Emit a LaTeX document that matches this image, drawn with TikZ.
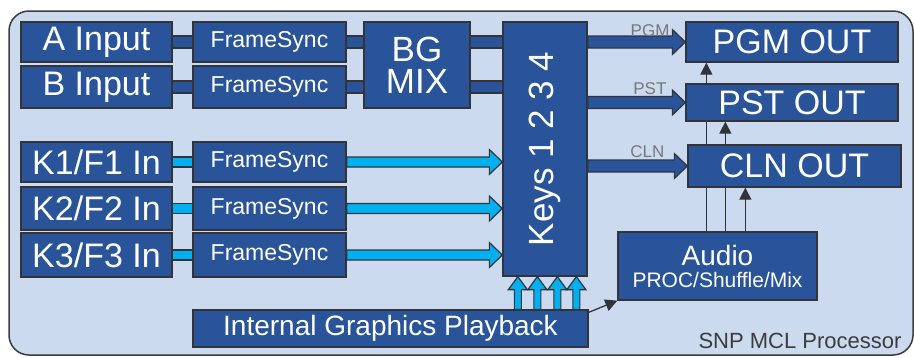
\documentclass[tikz,border=0pt]{standalone}
\usepackage{fontspec}
\setmainfont{Liberation Sans}
\usetikzlibrary{calc,arrows.meta}
\definecolor{boxblue}{RGB}{42,84,153}
\definecolor{edge}{RGB}{50,52,58}
\definecolor{panel}{RGB}{204,218,240}
\definecolor{kcyan}{RGB}{0,176,240}
\definecolor{lblgray}{RGB}{120,120,120}
\definecolor{outerline}{RGB}{60,60,60}
\pgfdeclarelayer{bottom}
\pgfdeclarelayer{background}
\pgfsetlayers{bottom,background,main}
\newcommand\fsz[1]{\fontsize{#1}{#1}\selectfont}
% horizontal bar between two points at same height
\newcommand\hconn[4]{\draw[barstyle,fill=#1] let \p1=(#2),\p2=(#3) in
  (\x1,\y1-#4) rectangle (\x2,\y1+#4);}
% horizontal block arrow
\newcommand\harr[4]{\draw[barstyle,fill=#1] let \p1=(#2),\p2=(#3) in
  (\x1,\y1-#4) -- (\x2-13pt,\y1-#4) -- (\x2-13pt,\y1-12.5pt) -- (\x2,\y1)
  -- (\x2-13pt,\y1+12.5pt) -- (\x2-13pt,\y1+#4) -- (\x1,\y1+#4) -- cycle;}
% vertical (upward) block arrow
\newcommand\varr[3]{\draw[barstyle,fill=#1] let \p1=(#2),\p2=(#3) in
  (\x1-3.5pt,\y1) -- (\x1-3.5pt,\y2-13pt) -- (\x1-9.5pt,\y2-13pt) -- (\x1,\y2)
  -- (\x1+9.5pt,\y2-13pt) -- (\x1+3.5pt,\y2-13pt) -- (\x1+3.5pt,\y1) -- cycle;}
\begin{document}
\begin{tikzpicture}[x=1pt,y=-1pt,
  blk/.style={draw=edge,line width=1.3pt,fill=boxblue,text=white,inner sep=0pt},
  big/.style={font=\fsz{34}},
  fsync/.style={blk,minimum width=153,font=\fsz{23}},
  barstyle/.style={draw=edge,line width=1.2pt,line join=miter},
  thin/.style={draw=edge,line width=1.3pt,-{Triangle[width=12pt,length=12pt]}},
  lbl/.style={anchor=base east,text=lblgray,font=\fsz{17}}]
\useasboundingbox (0,0) rectangle (914,357);
\begin{pgfonlayer}{bottom}
  \draw[draw=outerline,line width=1.5pt,fill=panel,rounded corners=20pt] (9,11) rectangle (913,355);
\end{pgfonlayer}

% input column
\node[blk,big,minimum width=151,minimum height=40] (ain) at (96.5,42) {A Input};
\node[blk,big,minimum width=151,minimum height=42] (bin) at (96.5,87) {B Input};
\node[blk,big,minimum width=151,minimum height=40] (k1) at (96.5,162) {K1/F1 In};
\node[blk,big,minimum width=151,minimum height=43] (k2) at (96.5,208.5) {K2/F2 In};
\node[blk,big,minimum width=151,minimum height=44] (k3) at (96.5,255) {K3/F3 In};

% framesyncs
\node[fsync,minimum height=40] (fsa) at (269.5,42) {FrameSync};
\node[fsync,minimum height=42] (fsb) at (269.5,87) {FrameSync};
\node[fsync,minimum height=40] (fk1) at (269.5,162) {FrameSync};
\node[fsync,minimum height=43] (fk2) at (269.5,208.5) {FrameSync};
\node[fsync,minimum height=44] (fk3) at (269.5,255) {FrameSync};

% BG mix
\node[blk,minimum width=106,minimum height=86,align=center,font=\fontsize{35}{32}\selectfont] (bg) at (417,65) {BG\\MIX};

% keys
\node[blk,minimum width=84,minimum height=254] (keys) at (545,149) {};
\node[rotate=90,text=white,font=\fsz{35},inner sep=0pt] (keyst) at (keys.center) {Keys 1 2 3 4};

% outputs
\node[blk,big,minimum width=212,minimum height=40] (pgm) at (792,42) {PGM OUT};
\node[blk,big,minimum width=212,minimum height=37] (pst) at (792,102.5) {PST OUT};
\node[blk,big,minimum width=213,minimum height=42] (cln) at (794.5,166) {CLN OUT};

% audio
\node[blk,minimum width=199,minimum height=68,align=center,font=\fontsize{28}{22}\selectfont] (audio) at (717.5,266)
  {Audio\\{\fontsize{21}{22}\selectfont PROC/Shuffle/Mix}};

% internal graphics
\node[blk,minimum width=395,minimum height=37,font=\fsz{28}] (igp) at (390.5,328.5) {Internal Graphics Playback};

% labels
\node[lbl] (lpgm) at (673,36) {PGM};
\node[lbl] (lpst) at (670,94) {PST};
\node[lbl] (lcln) at (668,157) {CLN};
\node[anchor=base east,text=outerline,font=\fsz{22}] (snp) at (905,348) {SNP MCL Processor};

\begin{pgfonlayer}{background}
  % A/B paths
  \hconn{boxblue}{ain.east}{fsa.west}{6pt}
  \hconn{boxblue}{bin.east}{fsb.west}{6pt}
  \hconn{boxblue}{fsa.east}{fsa.east -| bg.west}{6pt}
  \hconn{boxblue}{fsb.east}{fsb.east -| bg.west}{6pt}
  \hconn{boxblue}{bg.east |- ain.east}{keys.west |- ain.east}{6pt}
  \hconn{boxblue}{bg.east |- bin.east}{keys.west |- bin.east}{6pt}
  % key paths
  \hconn{kcyan}{k1.east}{fk1.west}{5pt}
  \hconn{kcyan}{k2.east}{fk2.west}{5pt}
  \hconn{kcyan}{k3.east}{fk3.west}{5pt}
  \harr{kcyan}{fk1.east}{keys.west |- fk1.east}{5pt}
  \harr{kcyan}{fk2.east}{keys.west |- fk2.east}{5pt}
  \harr{kcyan}{fk3.east}{keys.west |- fk3.east}{5pt}
  % outputs
  \harr{boxblue}{keys.east |- pgm.west}{pgm.west}{6pt}
  \harr{boxblue}{keys.east |- pst.west}{pst.west}{6pt}
  \harr{boxblue}{keys.east |- cln.west}{cln.west}{6pt}
  % graphics into keys
  \coordinate (g1) at ($(keys.south west)+(15.5,0)$);
  \coordinate (g2) at ($(keys.south west)+(35,0)$);
  \coordinate (g3) at ($(keys.south west)+(55,0)$);
  \coordinate (g4) at ($(keys.south west)+(74,0)$);
  \varr{kcyan}{g1 |- igp.north}{g1}
  \varr{kcyan}{g2 |- igp.north}{g2}
  \varr{kcyan}{g3 |- igp.north}{g3}
  \varr{kcyan}{g4 |- igp.north}{g4}
  % audio lines
  \coordinate (a1) at ($(audio.north west)+(89,0)$);
  \coordinate (a2) at ($(audio.north west)+(108,0)$);
  \coordinate (a3) at ($(audio.north west)+(128,0)$);
  \draw[thin] (a1) -- (a1 |- pgm.south);
  \draw[thin] (a2) -- (a2 |- pst.south);
  \draw[thin] (a3) -- (a3 |- cln.south);
  \draw[thin] ($(igp.north east)+(0,3)$) -- (audio.south west);
\end{pgfonlayer}
\end{tikzpicture}
\end{document}
